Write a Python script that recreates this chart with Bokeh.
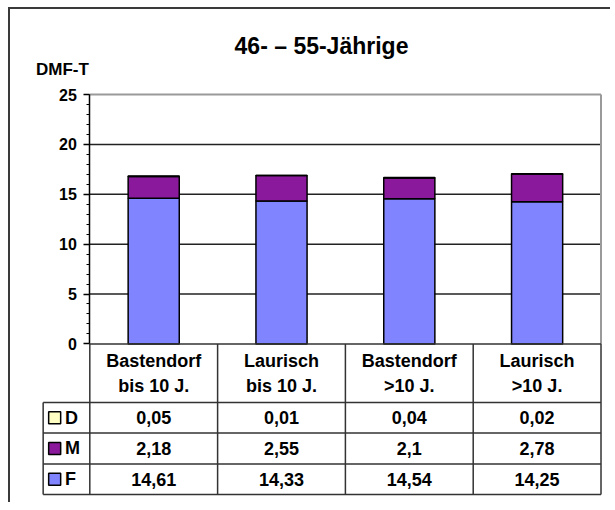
from bokeh.plotting import figure
from bokeh.models import ColumnDataSource, SingleIntervalTicker, Range1d
from bokeh.embed import file_html
from bokeh.resources import INLINE
from bokeh.core.properties import value

# ---- data ----
title_text = "46- \u2013 55-Jährige"
y_label = "DMF-T"
cat_line1 = ["Bastendorf", "Laurisch", "Bastendorf", "Laurisch"]
cat_line2 = ["bis 10 J.", "bis 10 J.", ">10 J.", ">10 J."]
F = [14.61, 14.33, 14.54, 14.25]
M = [2.18, 2.55, 2.10, 2.78]
D = [0.05, 0.01, 0.04, 0.02]
series = ["F", "M", "D"]
table_rows = ["D", "M", "F"]
colors = {"F": "#8084FF", "M": "#8A1A9B", "D": "#FFFFC4"}
y_tick_step = 5
y_max = 25

FONT = value("Liberation Sans")
xs = list(range(len(cat_line1)))
x_left, x_right = -0.5, len(xs) - 0.5

src = ColumnDataSource(dict(x=xs, F=F, M=M, D=D))

p = figure(frame_width=586, frame_height=477,
           x_range=Range1d(-1.0423, 3.543), y_range=Range1d(-15.40, 32.42),
           x_axis_location=None, y_axis_location="left",
           output_backend="svg", toolbar_location=None,
           min_border_left=10, min_border_right=4,
           min_border_top=11, min_border_bottom=5)
p.styles = {"margin-left": "8px", "margin-top": "7px",
            "border-top": "2px solid #3a3a3a", "border-left": "2px solid #3a3a3a"}
p.outline_line_color = None
p.xgrid.visible = False
p.ygrid.visible = False
p.background_fill_color = "white"
p.border_fill_color = "white"

# y axis at the category-block left edge
ax = p.yaxis[0]
ax.fixed_location = x_left
ax.bounds = (0, y_max)
ax.ticker = SingleIntervalTicker(interval=y_tick_step, num_minor_ticks=5)
ax.axis_line_color = "black"
ax.axis_line_width = 1.5
ax.major_tick_in = 0
ax.major_tick_out = 6
ax.minor_tick_in = 0
ax.minor_tick_out = 3
ax.major_tick_line_color = "black"
ax.minor_tick_line_color = "black"
ax.major_tick_line_width = 1.5
ax.minor_tick_line_width = 1.2
ax.major_label_text_font = "Liberation Sans"
ax.major_label_text_font_style = "bold"
ax.major_label_text_font_size = "16px"
ax.major_label_text_color = "black"
ax.major_label_standoff = 7

# gridlines
grid_vals = list(range(y_tick_step, y_max, y_tick_step))
p.segment(x0=[x_left] * len(grid_vals), x1=[x_right] * len(grid_vals),
          y0=grid_vals, y1=grid_vals, line_color="#222222", line_width=1.5)
# plot area top / right border (gray)
p.segment(x0=[x_left, x_right], x1=[x_right, x_right], y0=[y_max, 0], y1=[y_max, y_max],
          line_color="#9a9a9a", line_width=2)

# stacked bars
p.vbar_stack(series, x="x", width=0.4, source=src,
             fill_color=[colors[s] for s in series],
             line_color="black", line_width=1.5)

# title and y label (drawn as text above the plot area)
frame_mid = (p.x_range.start + p.x_range.end) / 2
p.text(x=[frame_mid], y=[29.85], text=[title_text], text_align="center", x_offset=8,
       text_baseline="middle", text_font=FONT, text_font_style="bold",
       text_font_size="23px", text_color="black")
p.text(x=[x_left], y=[27.48], text=[y_label], text_align="right", x_offset=-1,
       text_baseline="middle", text_font=FONT, text_font_style="bold",
       text_font_size="17px", text_color="black")

# ---- data table below ----
header_bottom = -5.87
row_edges = [header_bottom, -8.93, -12.03, -15.1]
legend_left = -0.865
tcol = "#333333"
p.segment(x0=[x_left] + [legend_left] * len(row_edges), x1=[x_right] * (len(row_edges) + 1),
          y0=[0] + row_edges, y1=[0] + row_edges, line_color=tcol, line_width=1.5)
vx = [x_left + i for i in range(len(xs) + 1)]
p.segment(x0=vx, x1=vx, y0=[0] * len(vx), y1=[row_edges[-1]] * len(vx),
          line_color=tcol, line_width=1.5)
p.segment(x0=[legend_left], x1=[legend_left], y0=[header_bottom], y1=[row_edges[-1]],
          line_color=tcol, line_width=1.5)

txt = dict(text_font=FONT, text_font_style="bold", text_font_size="18px",
           text_color="black", text_baseline="middle")
p.text(x=xs, y=[-1.75] * len(xs), text=cat_line1, text_align="center", **txt)
p.text(x=xs, y=[-4.25] * len(xs), text=cat_line2, text_align="center", **txt)

vals = {"F": F, "M": M, "D": D}
row_centers = [(row_edges[i] + row_edges[i + 1]) / 2 for i in range(len(table_rows))]
for r, yc in zip(table_rows, row_centers):
    labels = [f"{v:g}".replace(".", ",") for v in vals[r]]
    p.text(x=xs, y=[yc] * len(xs), text=labels, text_align="center", **txt)

p.scatter(x=[legend_left + 0.09] * len(table_rows), y=row_centers, marker="square", size=12,
          fill_color=[colors[r] for r in table_rows], line_color="black", line_width=1.5)
p.text(x=[legend_left + 0.17] * len(table_rows), y=row_centers, text=table_rows,
       text_align="left", **txt)

open("out.html", "w").write(file_html(p, INLINE))
